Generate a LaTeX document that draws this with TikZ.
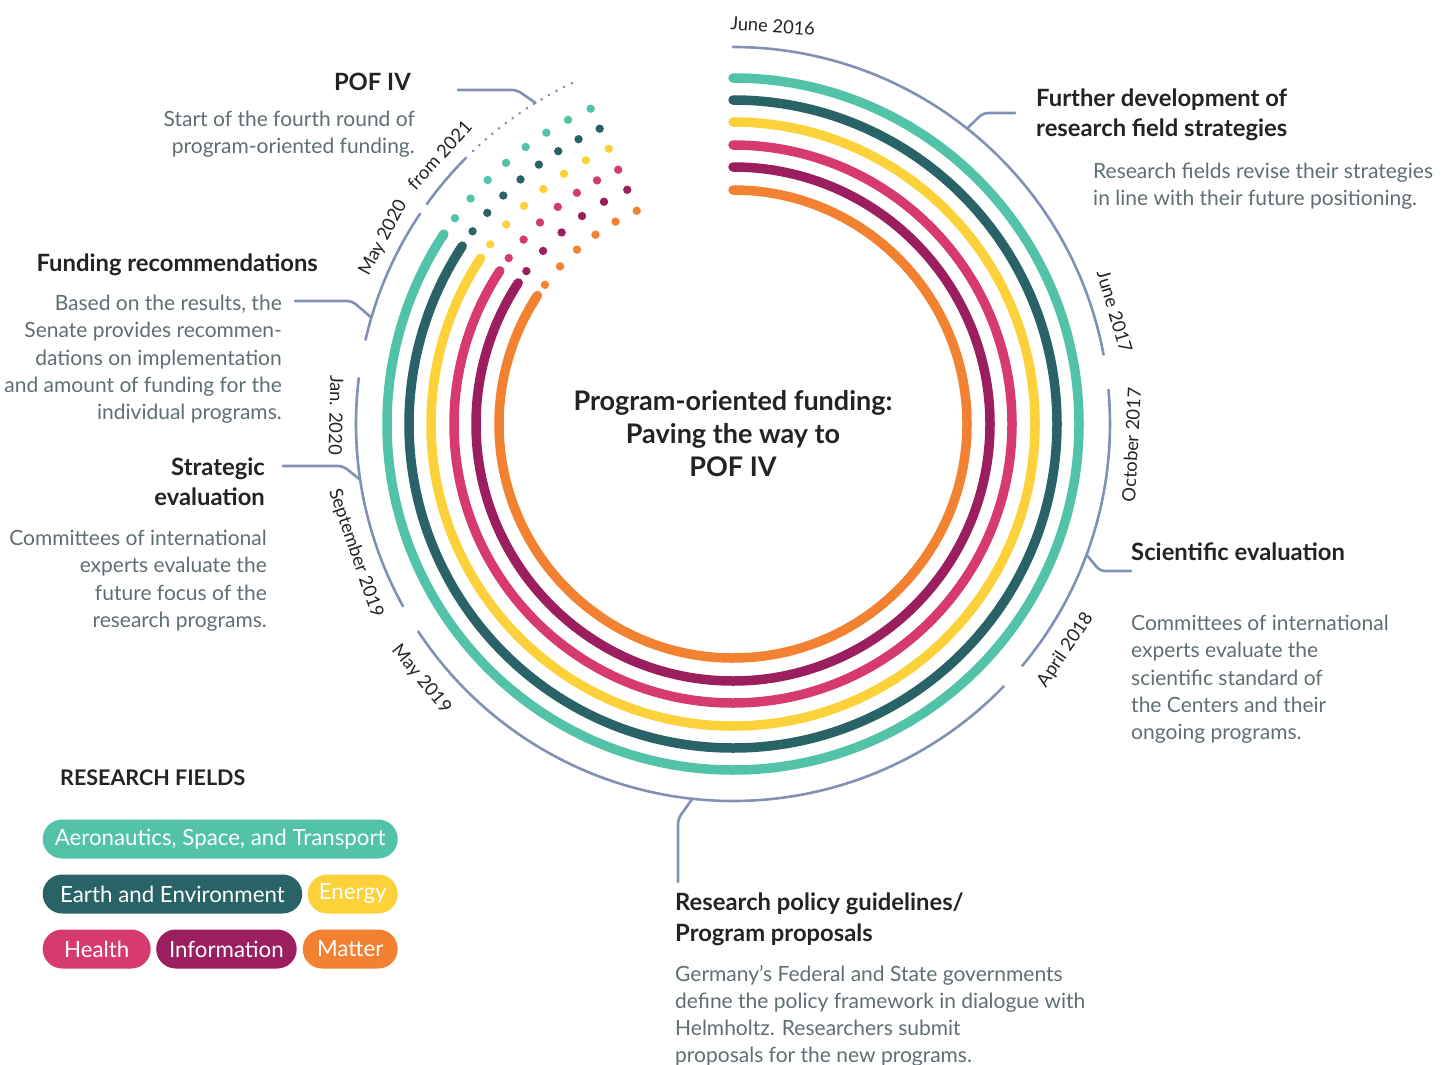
\documentclass[tikz,border=0pt]{standalone}
\usepackage{fontspec}
\setmainfont{Lato}
\usetikzlibrary{calc}

\definecolor{rfAero}{RGB}{82,194,168}
\definecolor{rfEarth}{RGB}{42,99,103}
\definecolor{rfEnergy}{RGB}{253,209,58}
\definecolor{rfHealth}{RGB}{214,58,110}
\definecolor{rfInfo}{RGB}{155,31,94}
\definecolor{rfMatter}{RGB}{242,129,50}
\definecolor{timeline}{RGB}{128,145,180}
\definecolor{headtext}{RGB}{35,35,35}
\definecolor{bodytext}{RGB}{95,110,115}

\tikzset{
  ring/.style={line width=9.5pt, line cap=round},
  tline/.style={draw=timeline, line width=2.6pt, line cap=round},
  leader/.style={draw=timeline, line width=2.6pt, line cap=round, rounded corners=5pt},
  tdots/.style={draw=timeline, line width=3pt, line cap=round, dash pattern=on 0pt off 8.6pt},
  datelabel/.style={font={\fontsize{18.3}{20}\selectfont}, text=headtext, inner sep=0pt},
  heading/.style={font={\fontsize{23.8}{30}\selectfont\bfseries}, text=headtext, inner sep=0pt},
  body/.style={font={\fontsize{21}{27.3}\selectfont}, text=bodytext, inner sep=0pt},
  pill/.style={rounded corners=19.5pt, inner sep=0pt, minimum height=39pt, text=white,
    font={\fontsize{22.3}{24}\selectfont}, anchor=west}
}

\begin{document}
\begin{tikzpicture}[x=1pt,y=1pt]
\useasboundingbox (0,0) rectangle (1454,-1065);
\coordinate (C) at (733,-424);

% ---- coloured rings: solid arc, then a dotted tail ----
\foreach \r/\col/\n in {346/rfAero/8, 324/rfEarth/8, 302/rfEnergy/7,
                        279/rfHealth/7, 257/rfInfo/6, 234/rfMatter/6}{
  \draw[ring, \col] ($(C)+(90:\r)$) arc[start angle=90, end angle=-213.3, radius=\r];
  \pgfmathsetmacro{\step}{29.2/(\n-1)}
  \foreach \k in {1,...,\n}{
    \fill[\col] ($(C)+({143.5-(\k-1)*\step}:\r)$) circle (4.2);
  }
}

% ---- timeline arc segments ----
\def\R{377}
\draw[tline] ($(C)+(90:\R)$)     arc[start angle=90,    end angle=10.6,   radius=\R];
\draw[tline] ($(C)+(5.2:\R)$)    arc[start angle=5.2,   end angle=-39.9,  radius=\R];
\draw[tline] ($(C)+(-44.1:\R)$)  arc[start angle=-44.1, end angle=-146.6, radius=\R];
\draw[tline] ($(C)+(-151.1:\R)$) arc[start angle=-151.1,end angle=-187,   radius=\R];
\draw[tline] ($(C)+(167.1:\R)$)  arc[start angle=167.1, end angle=146.1,  radius=\R];
\draw[tline] ($(C)+(144.3:\R)$)  arc[start angle=144.3, end angle=135.1,  radius=\R];
\draw[tdots] ($(C)+(133.6:\R)$)  arc[start angle=133.6, end angle=114,    radius=\R];

% ---- date labels along the timeline ----
\node[datelabel, rotate=-4]   (d2016)  at ($(C)+(84.3:400)$)  {June 2016};
\node[datelabel, rotate=-73.6](d2017a) at ($(C)+(16.4:398)$)  {June 2017};
\node[datelabel, rotate=87]   (d2017b) at ($(C)+(-3:399)$)    {October 2017};
\node[datelabel, rotate=55.8] (d2018)  at ($(C)+(-34.2:402)$) {April 2018};
\node[datelabel, rotate=-50.7](d2019a) at ($(C)+(-140.7:403)$){May 2019};
\node[datelabel, rotate=-71.1](d2019b) at ($(C)+(-161.1:399)$){September 2019};
\node[datelabel, rotate=-91.3](d2020a) at ($(C)+(178.7:397)$) {Jan. 2020};
\node[datelabel, rotate=62]   (d2020b) at ($(C)+(152:396)$)   {May 2020};
\node[datelabel, rotate=47.5] (d2021)  at ($(C)+(137.5:398)$) {from 2021};

% ---- centre title ----
\node[font={\fontsize{27}{33}\selectfont\bfseries}, text=headtext, align=center,
      anchor=north, inner sep=0pt] (title) at (733,-390)
  {Program-oriented funding:\\Paving the way to\\POF IV};

% ---- text blocks ----
\node[heading, anchor=north west, align=left] (hFurther) at (1036,-89)
  {Further development of\\research field strategies};
\node[body, anchor=north west, align=left] (bFurther) at (1093,-163)
  {Research fields revise their strategies\\in line with their future positioning.};

\node[heading, anchor=north west, align=left] (hSci) at (1131,-543) {Scientific evaluation};
\node[body, anchor=north west, align=left] (bSci) at (1131,-615)
  {Committees of international\\experts evaluate the\\scientific standard of\\the Centers and their\\ongoing programs.};

\node[heading, anchor=north west, align=left, font={\fontsize{23.8}{31}\selectfont\bfseries}] (hPol) at (675,-893)
  {Research policy guidelines/\\Program proposals};
\node[body, anchor=north west, align=left, font={\fontsize{21}{27}\selectfont}] (bPol) at (675,-965)
  {Germany’s Federal and State governments\\define the policy framework in dialogue with\\Helmholtz. Researchers submit\\proposals for the new programs.};

\node[heading, anchor=north east, align=right] (hPof) at (411,-73) {POF IV};
\node[body, anchor=north east, align=right] (bPof) at (415,-111)
  {Start of the fourth round of\\program-oriented funding.};

\node[heading, anchor=north east, align=right] (hFund) at (318,-254) {Funding recommendations};
\node[body, anchor=north east, align=right] (bFund) at (282,-295)
  {Based on the results, the\\Senate provides recommen-\\dations on implementation\\and amount of funding for the\\individual programs.};

\node[heading, anchor=north east, align=right] (hStrat) at (265,-458) {Strategic\\evaluation};
\node[body, anchor=north east, align=right] (bStrat) at (267,-530)
  {Committees of international\\experts evaluate the\\future focus of the\\research programs.};

% ---- leader lines from the timeline to the texts ----
\coordinate (lPof)    at ($(C)+(121.6:\R)$);
\coordinate (lFurther)at ($(C)+(51.6:\R)$);
\coordinate (lSci)    at ($(C)+(-20.3:\R)$);
\coordinate (lPol)    at ($(C)+(-96.2:\R)$);
\coordinate (lStrat)  at ($(C)+(-171.5:\R)$);
\coordinate (lFund)   at ($(C)+(163.6:\R)$);

\draw[leader] (lPof) -- (517,-90) -- ($(hPof.east |- 0,-90)+(47,0)$);
\draw[leader] (lFurther) -- (983,-113) -- ($(hFurther.west |- 0,-113)+(-21,0)$);
\draw[leader] (lSci) -- (1100,-571) -- (hSci.west |- 0,-571);
\draw[leader] (lPol) -- (678,-819) -- ($(hPol.north west -| 678,0)+(0,11)$);
\draw[leader] (lStrat) -- (343,-466) -- ($(hStrat.east |- 0,-466)+(18,0)$);
\draw[leader] (lFund) -- (352,-301) -- ($(bFund.east |- 0,-301)+(13,0)$);

% ---- legend ----
\node[font={\fontsize{21.5}{24}\selectfont\bfseries}, text=headtext, anchor=west, inner sep=0pt]
  (legend) at (60,-778) {RESEARCH FIELDS};
\node[pill, fill=rfAero,   minimum width=355pt] (pAero)   at (42.5,-839) {Aeronautics, Space, and Transport};
\node[pill, fill=rfEarth,  minimum width=259.5pt] (pEarth) at (42.5,-894) {Earth and Environment};
\node[pill, fill=rfEnergy, minimum width=90pt]  (pEnergy) at (307.5,-894) {Energy};
\node[pill, fill=rfHealth, minimum width=108pt] (pHealth) at (42.5,-949) {Health};
\node[pill, fill=rfInfo,   minimum width=140.5pt] (pInfo) at (156,-949) {Information};
\node[pill, fill=rfMatter, minimum width=95pt]  (pMatter) at (302.5,-949) {Matter};
\end{tikzpicture}
\end{document}
